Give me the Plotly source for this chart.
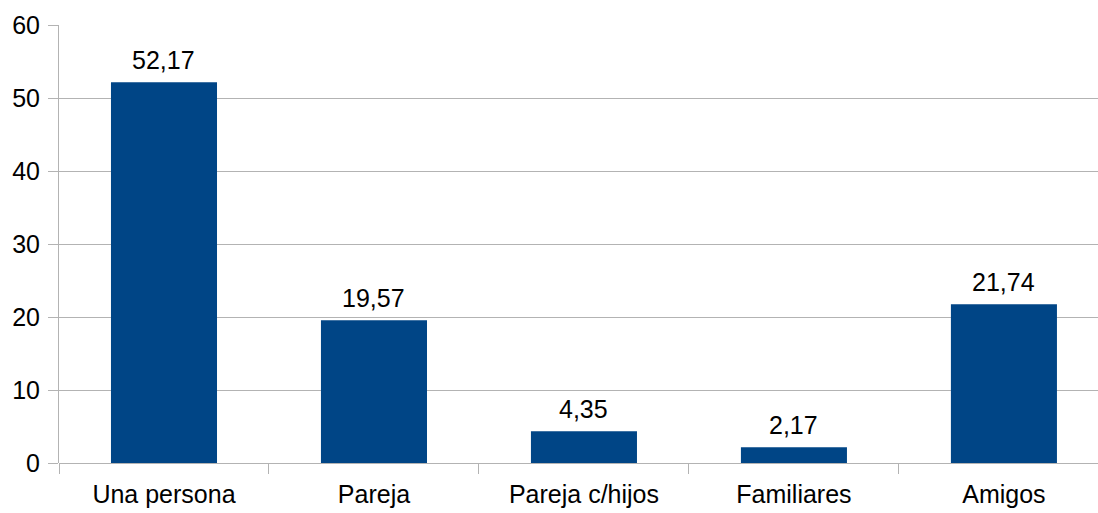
import plotly.graph_objects as go

categories = ["Una persona", "Pareja", "Pareja c/hijos", "Familiares", "Amigos"]
values = [52.17, 19.57, 4.35, 2.17, 21.74]
y_ticks = [0, 10, 20, 30, 40, 50, 60]

fig = go.Figure(go.Bar(
    x=categories, y=values,
    marker=dict(color="#004586", line=dict(width=0)),
))

for c, v in zip(categories, values):
    fig.add_annotation(
        x=c, y=v, text=f"{v:.2f}".replace(".", ","),
        showarrow=False, yanchor="bottom", yshift=6,
        font=dict(size=25, color="#000000"),
    )

fig.update_layout(
    width=1098, height=513,
    margin=dict(l=59, r=0, t=25, b=50),
    paper_bgcolor="white", plot_bgcolor="white",
    font=dict(family="Liberation Sans, Arial, sans-serif", size=25, color="#000000"),
    bargap=0.495,
    showlegend=False,
)
fig.update_xaxes(
    range=[-0.5, 4.448],
    tickson="boundaries", ticks="outside", ticklen=10, tickcolor="#b3b3b3",
    showgrid=False, showline=False, zeroline=False,
    tickfont=dict(size=25), ticklabelstandoff=14,
)
fig.update_yaxes(
    range=[0, 60], tickvals=y_ticks, ticks="outside", ticklen=10, tickcolor="#b3b3b3",
    showgrid=True, gridcolor="#b3b3b3", gridwidth=1,
    showline=True, linecolor="#b3b3b3", linewidth=1,
    zeroline=True, zerolinecolor="#b3b3b3", zerolinewidth=1,
    tickfont=dict(size=25), ticklabelstandoff=3,
)

fig.write_html(
    "out.html",
    config={"displayModeBar": False},
    post_script="document.body.style.margin='0';document.body.style.overflow='hidden';",
)
